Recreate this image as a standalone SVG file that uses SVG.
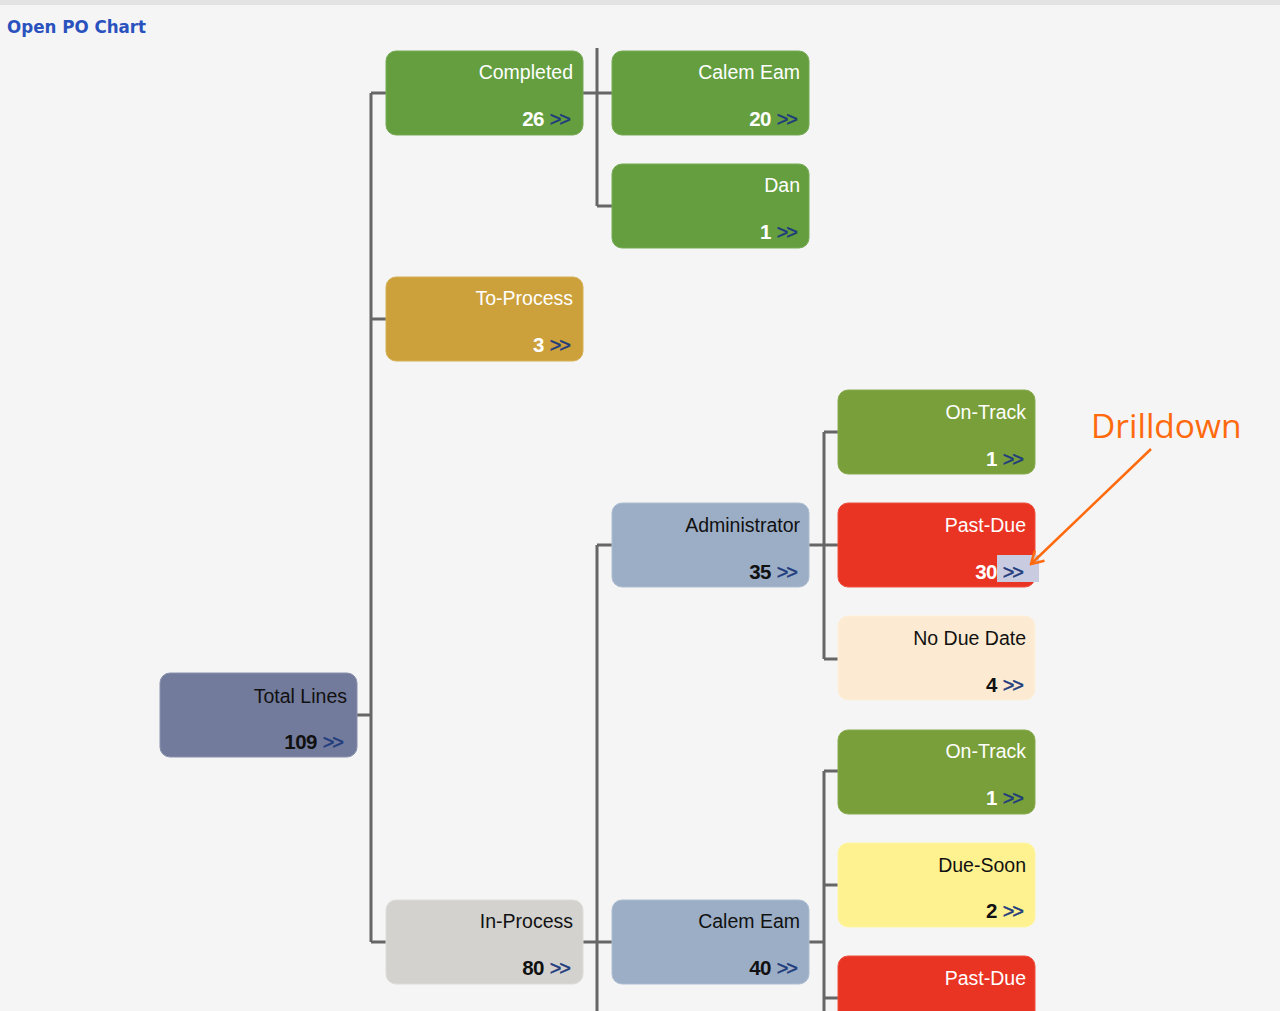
<svg xmlns="http://www.w3.org/2000/svg" width="1280" height="1011" viewBox="0 0 1280 1011">
<defs>
<style>
.t{font-family:"Liberation Sans",Arial,sans-serif;font-size:19.5px;text-anchor:end}
.c{font-family:"Liberation Sans",Arial,sans-serif;font-size:20.5px;font-weight:bold;text-anchor:end;letter-spacing:-0.5px}
.a{font-family:"Liberation Sans",Arial,sans-serif;font-size:20px;fill:#1f3c7c;letter-spacing:-2px;stroke:#1f3c7c;stroke-width:0.4;text-anchor:end}
.w{fill:#ffffff}
.k{fill:#111111}
.ln{stroke:#666666;stroke-width:3;fill:none}
</style>
<marker id="ah" viewBox="0 0 16 16" refX="14" refY="8" markerWidth="16" markerHeight="16" markerUnits="userSpaceOnUse" orient="auto">
<path d="M2,1 L14,8 L2,15" fill="none" stroke="#ff6a0d" stroke-width="2.5"/>
</marker>
</defs>
<rect x="0" y="0" width="1280" height="1011" fill="#f5f5f5"/>
<rect x="0" y="0" width="1280" height="5" fill="#e3e3e3"/>
<text x="7" y="33" font-family="DejaVu Sans,Verdana,sans-serif" font-size="18" font-weight="bold" fill="#2a52be" textLength="139" lengthAdjust="spacingAndGlyphs">Open PO Chart</text>

<g id="connectors" class="ln">
<path d="M357,715 H371 M371,93 V942 M371,93 H386 M371,319 H386 M371,942 H386"/>
<path d="M583,93 H597 M597,48 V206 M597,93 H612 M597,206 H612"/>
<path d="M583,942 H597 M597,545 V1011 M597,545 H612 M597,942 H612"/>
<path d="M809,545 H824 M824,432 V659 M824,432 H838 M824,545 H838 M824,659 H838"/>
<path d="M809,942 H824 M824,771 V1011 M824,771 H838 M824,885 H838 M824,998 H838"/>
</g>

<g id="n-total">
<rect x="160" y="673" width="197" height="84" rx="10" fill="#737b9c" stroke="#8a91ad"/>
<text class="t k" x="347" y="703">Total Lines</text>
<text class="c k" x="317" y="749">109</text>
<text class="a" x="342" y="749">&gt;&gt;</text>
</g>
<g id="n-completed">
<rect x="386" y="51" width="197" height="84" rx="10" fill="#649e3f" stroke="#76ab55"/>
<text class="t w" x="573" y="79">Completed</text>
<text class="c w" x="544" y="126">26</text>
<text class="a" x="569" y="126">&gt;&gt;</text>
</g>
<g id="n-toprocess">
<rect x="386" y="277" width="197" height="84" rx="10" fill="#cca13b" stroke="#d6b055"/>
<text class="t w" x="573" y="305">To-Process</text>
<text class="c w" x="544" y="352">3</text>
<text class="a" x="569" y="352">&gt;&gt;</text>
</g>
<g id="n-inprocess">
<rect x="386" y="900" width="197" height="84" rx="10" fill="#d3d2cf" stroke="#dddcd9"/>
<text class="t k" x="573" y="928">In-Process</text>
<text class="c k" x="544" y="975">80</text>
<text class="a" x="569" y="975">&gt;&gt;</text>
</g>
<g id="n-calem1">
<rect x="612" y="51" width="197" height="84" rx="10" fill="#649e3f" stroke="#76ab55"/>
<text class="t w" x="800" y="79">Calem Eam</text>
<text class="c w" x="771" y="126">20</text>
<text class="a" x="796" y="126">&gt;&gt;</text>
</g>
<g id="n-dan">
<rect x="612" y="164" width="197" height="84" rx="10" fill="#649e3f" stroke="#76ab55"/>
<text class="t w" x="800" y="192">Dan</text>
<text class="c w" x="771" y="239">1</text>
<text class="a" x="796" y="239">&gt;&gt;</text>
</g>
<g id="n-admin">
<rect x="612" y="503" width="197" height="84" rx="10" fill="#9caec6" stroke="#adbdd1"/>
<text class="t k" x="800" y="532">Administrator</text>
<text class="c k" x="771" y="579">35</text>
<text class="a" x="796" y="579">&gt;&gt;</text>
</g>
<g id="n-calem2">
<rect x="612" y="900" width="197" height="84" rx="10" fill="#9caec6" stroke="#adbdd1"/>
<text class="t k" x="800" y="928">Calem Eam</text>
<text class="c k" x="771" y="975">40</text>
<text class="a" x="796" y="975">&gt;&gt;</text>
</g>
<g id="n-ontrack1">
<rect x="838" y="390" width="197" height="84" rx="10" fill="#799f3a" stroke="#88ab4f"/>
<text class="t w" x="1026" y="419">On-Track</text>
<text class="c w" x="997" y="466">1</text>
<text class="a" x="1022" y="466">&gt;&gt;</text>
</g>
<g id="n-pastdue1">
<rect x="838" y="503" width="197" height="84" rx="10" fill="#e93323" stroke="#ee5040"/>
<rect x="997" y="555" width="42" height="27" fill="#c9cbe0"/>
<text class="t w" x="1026" y="532">Past-Due</text>
<text class="c w" x="997" y="579">30</text>
<text class="a" x="1022" y="579">&gt;&gt;</text>
</g>
<g id="n-noduedate">
<rect x="838" y="616" width="197" height="84" rx="10" fill="#fcebd2" stroke="#fdf0dc"/>
<text class="t k" x="1026" y="645">No Due Date</text>
<text class="c k" x="997" y="692">4</text>
<text class="a" x="1022" y="692">&gt;&gt;</text>
</g>
<g id="n-ontrack2">
<rect x="838" y="730" width="197" height="84" rx="10" fill="#799f3a" stroke="#88ab4f"/>
<text class="t w" x="1026" y="758">On-Track</text>
<text class="c w" x="997" y="805">1</text>
<text class="a" x="1022" y="805">&gt;&gt;</text>
</g>
<g id="n-duesoon">
<rect x="838" y="843" width="197" height="84" rx="10" fill="#fef290" stroke="#fef5a8"/>
<text class="t k" x="1026" y="872">Due-Soon</text>
<text class="c k" x="997" y="918">2</text>
<text class="a" x="1022" y="918">&gt;&gt;</text>
</g>
<g id="n-pastdue2">
<rect x="838" y="956" width="197" height="84" rx="10" fill="#e93323" stroke="#ee5040"/>
<text class="t w" x="1026" y="985">Past-Due</text>
</g>

<g id="annotation">
<text x="1091" y="438" font-family="Open Sans,Noto Sans,sans-serif" font-size="33.5" fill="#ff6a0d">Drilldown</text>
<line x1="1151" y1="449" x2="1031" y2="564" stroke="#ff6a0d" stroke-width="2.5" marker-end="url(#ah)"/>
</g>
</svg>
